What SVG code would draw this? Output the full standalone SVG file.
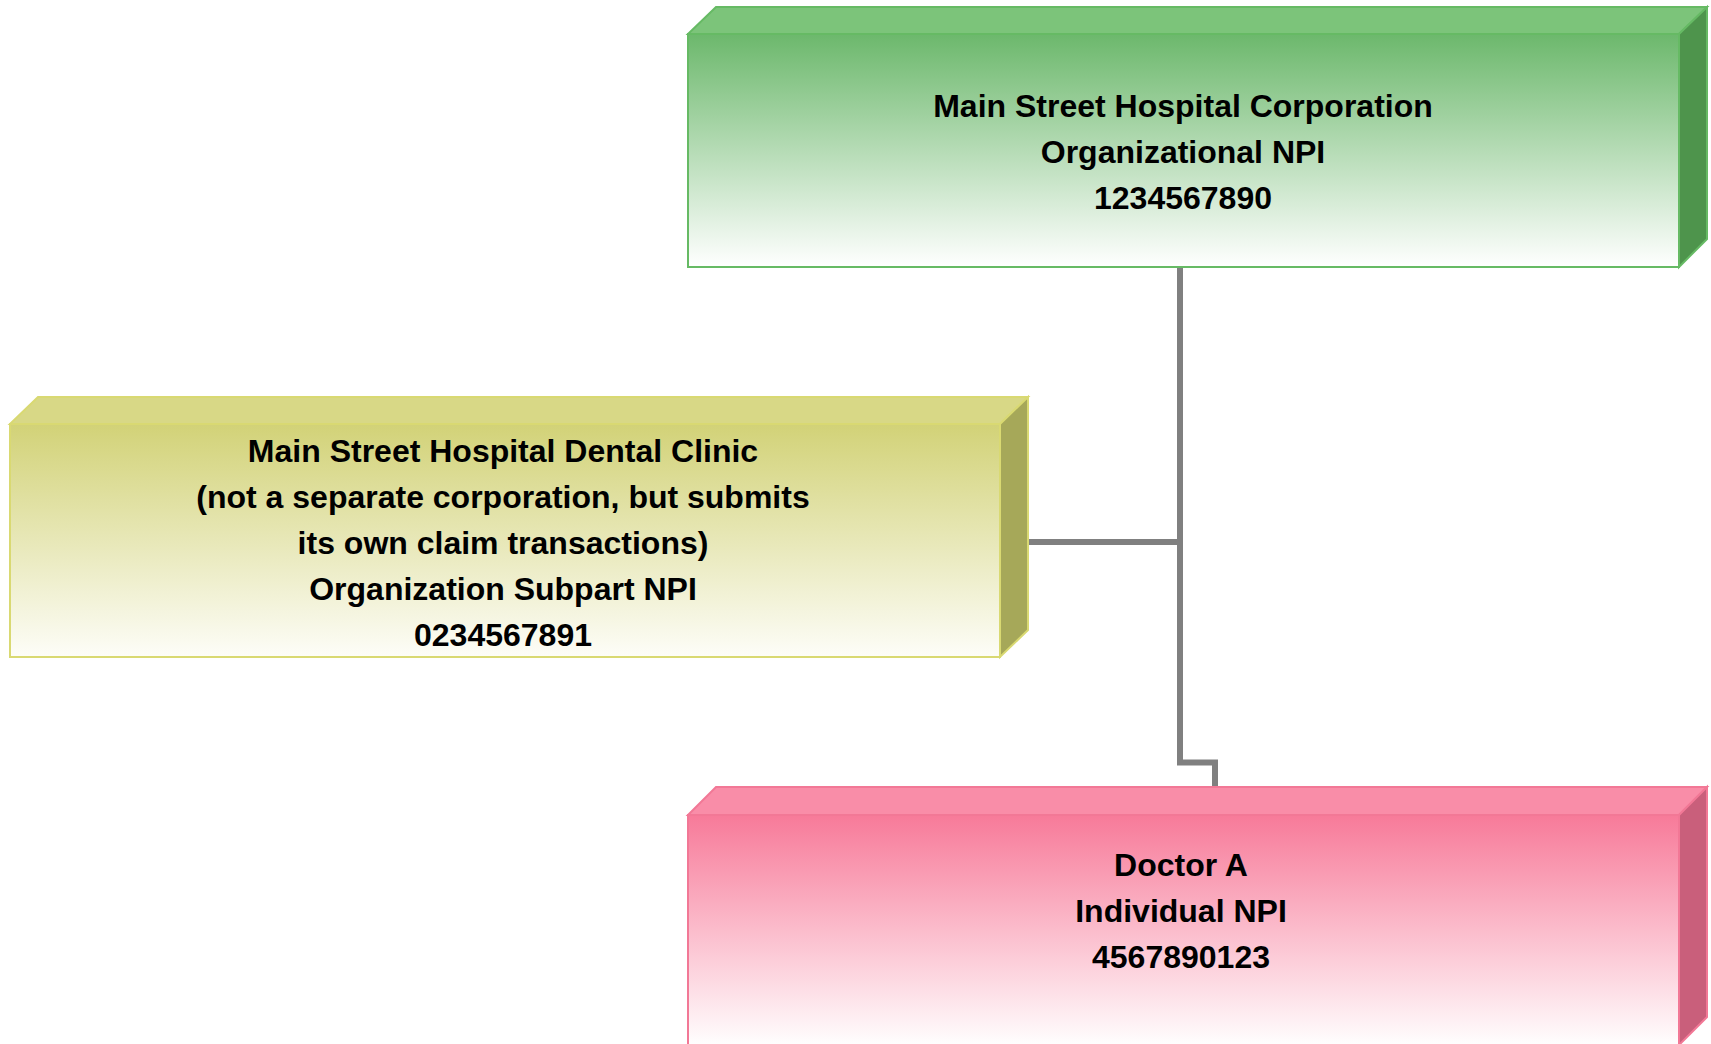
<svg xmlns="http://www.w3.org/2000/svg" width="1711" height="1044" viewBox="0 0 1711 1044">
  <style>
    .lbl { font-family: "Liberation Sans", Arial, sans-serif; font-weight: bold; font-size: 32px; fill: #000; text-anchor: middle; }
    .conn { fill: none; stroke: #808080; stroke-width: 6; stroke-linejoin: miter; }
  </style>
  <defs>
    <linearGradient id="gGreen" x1="0" y1="0" x2="0" y2="1">
      <stop offset="0" stop-color="#6cb86c"/>
      <stop offset="1" stop-color="#ffffff"/>
    </linearGradient>
    <linearGradient id="gYellow" x1="0" y1="0" x2="0" y2="1">
      <stop offset="0" stop-color="#d2d277"/>
      <stop offset="1" stop-color="#fdfdf8"/>
    </linearGradient>
    <linearGradient id="gPink" x1="0" y1="0" x2="0" y2="1">
      <stop offset="0" stop-color="#f77a99"/>
      <stop offset="1" stop-color="#ffffff"/>
    </linearGradient>
  </defs>

  <g id="connectors">
    <path class="conn" d="M1180 267 V762.5 H1215 V787"/>
    <path class="conn" d="M1028 542 H1180"/>
  </g>

  <g id="node-hospital">
    <polygon points="688,34 716,7 1707,7 1679,34" fill="#7cc47a" stroke="#66ba64" stroke-width="2"/>
    <polygon points="1679,34 1707,7 1707,239 1679,267" fill="#4e944c" stroke="#66ba64" stroke-width="2"/>
    <rect x="688" y="34" width="991" height="233" fill="url(#gGreen)" stroke="#66ba64" stroke-width="2"/>
    <text class="lbl" x="1183" y="117">Main Street Hospital Corporation</text>
    <text class="lbl" x="1183" y="163">Organizational NPI</text>
    <text class="lbl" x="1183" y="209">1234567890</text>
  </g>

  <g id="node-dental">
    <polygon points="10,424 38,397 1028,397 1000,424" fill="#d8d886" stroke="#d9d972" stroke-width="2"/>
    <polygon points="1000,424 1028,397 1028,630 1000,657" fill="#a6a859" stroke="#d9d972" stroke-width="2"/>
    <rect x="10" y="424" width="990" height="233" fill="url(#gYellow)" stroke="#d9d972" stroke-width="2"/>
    <text class="lbl" x="503" y="462">Main Street Hospital Dental Clinic</text>
    <text class="lbl" x="503" y="508">(not a separate corporation, but submits</text>
    <text class="lbl" x="503" y="554">its own claim transactions)</text>
    <text class="lbl" x="503" y="600">Organization Subpart NPI</text>
    <text class="lbl" x="503" y="646">0234567891</text>
  </g>

  <g id="node-doctor">
    <polygon points="688,815 716,787 1707,787 1679,815" fill="#f98da8" stroke="#f27896" stroke-width="2"/>
    <polygon points="1679,815 1707,787 1707,1017 1679,1045" fill="#c95f7b" stroke="#f27896" stroke-width="2"/>
    <rect x="688" y="815" width="991" height="232" fill="url(#gPink)" stroke="#f27896" stroke-width="2"/>
    <text class="lbl" x="1181" y="876">Doctor A</text>
    <text class="lbl" x="1181" y="922">Individual NPI</text>
    <text class="lbl" x="1181" y="968">4567890123</text>
  </g>
</svg>
